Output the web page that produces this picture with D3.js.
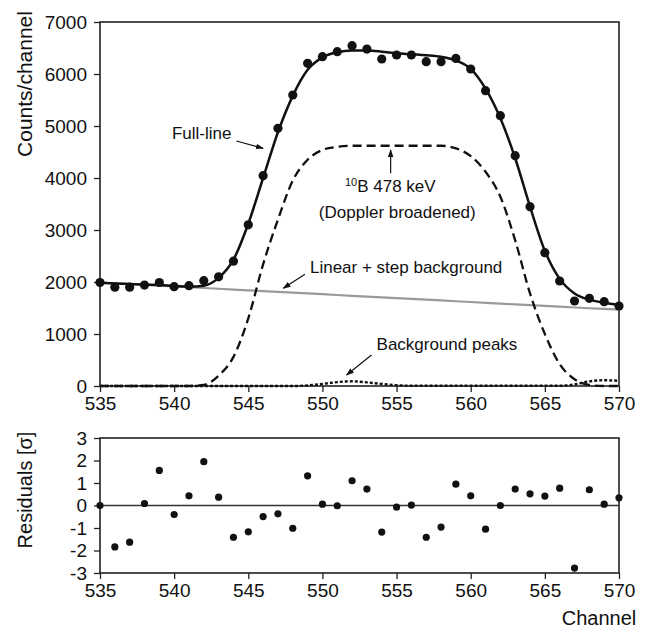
<!DOCTYPE html>
<html><head><meta charset="utf-8">
<script src="https://cdn.jsdelivr.net/npm/d3@7"></script>
<style>body{margin:0;background:#fff}svg{display:block}text{font-family:"Liberation Sans",Arial,Helvetica,sans-serif;fill:#111}</style>
</head><body><svg id="c" width="652" height="628"></svg>
<script>
const channels = d3.range(535, 571);
const counts = [1990,1900,1900,1940,1990,1910,1930,2025,2100,2400,3100,4044,4955,5596,6206,6333,6429,6544,6480,6288,6365,6365,6237,6237,6300,6096,5679,5198,4429,3448,2563,2019,1635,1686,1621,1538];
const fitLine = [1985,1970,1960,1950,1940,1925,1912,1930,2080,2430,3120,4000,4880,5580,6080,6320,6420,6450,6450,6430,6400,6380,6360,6330,6260,6100,5720,5150,4380,3450,2600,2060,1780,1660,1600,1560];
const peak10B = [0,0,0,0,0,0,0,20,200,560,1300,2340,3200,3950,4350,4540,4600,4620,4620,4620,4620,4620,4620,4620,4570,4420,4120,3640,2800,1780,1000,420,130,20,0,0];
const bgPeaks = [0,0,0,0,0,0,0,0,0,0,0,0,0,0,10,40,75,90,70,40,15,5,5,5,5,5,5,5,5,5,5,5,30,90,110,100];
const linBg = [1990,1975,1960,1945,1930,1915,1900,1885,1870,1855,1840,1825,1810,1795,1780,1765,1750,1735,1720,1705,1690,1675,1660,1645,1630,1615,1600,1585,1570,1555,1540,1525,1510,1495,1482,1470];
const residuals = [0.0,-1.84,-1.63,0.09,1.56,-0.4,0.43,1.95,0.37,-1.41,-1.17,-0.49,-0.37,-1.01,1.32,0.06,-0.01,1.1,0.73,-1.18,-0.07,0.02,-1.41,-0.96,0.95,0.43,-1.05,0.0,0.73,0.52,0.42,0.77,-2.78,0.7,0.06,0.34];
const xTicks = [535,540,545,550,555,560,565,570];
const yTicksTop = [0,1000,2000,3000,4000,5000,6000,7000];
const yTicksRes = [-3,-2,-1,0,1,2,3];

const svg = d3.select("#c");
const L = 100, R = 619;
const x = d3.scaleLinear().domain([535,570]).range([L,R]);
const y = d3.scaleLinear().domain([0,7000]).range([386,22]);
const yr = d3.scaleLinear().domain([-3,3]).range([573,438]);

svg.append("defs").append("marker").attr("id","ah").attr("viewBox","0 0 10 10")
  .attr("refX",9).attr("refY",5).attr("markerWidth",8).attr("markerHeight",8)
  .attr("orient","auto-start-reverse").attr("markerUnits","userSpaceOnUse")
  .append("path").attr("d","M0,1.5 L10,5 L0,8.5 Z").attr("fill","#111");

function axes(g, ys, yt){
  const ax = d3.axisBottom(x).tickValues(xTicks).tickSize(6).tickSizeOuter(0).tickFormat(d3.format("d"));
  const gx = g.append("g").attr("transform",`translate(0,${ys.range()[0]})`).call(ax);
  const ay = d3.axisLeft(ys).tickValues(yt).tickSize(6).tickSizeOuter(0).tickFormat(d=>String(d));
  const gy = g.append("g").attr("transform",`translate(${L},0)`).call(ay);
  [gx,gy].forEach(a=>{a.select(".domain").remove();
    a.selectAll("line").attr("stroke","#222").attr("stroke-width",1.3);
    a.selectAll("text").attr("font-size",19).attr("fill","#111").attr("font-family",'"Liberation Sans",Arial,sans-serif');});
  gx.selectAll("text").attr("dy","0.85em").attr("y",8);
  gy.selectAll("text").attr("x",-13);
  g.append("rect").attr("x",L).attr("y",ys.range()[1]).attr("width",R-L).attr("height",ys.range()[0]-ys.range()[1])
    .attr("fill","none").attr("stroke","#222").attr("stroke-width",1.6);
}

const gTop = svg.append("g");
axes(gTop, y, yTicksTop);
const gBot = svg.append("g");
axes(gBot, yr, yTicksRes);

const line = (arr, ys, curve) => d3.line().x((d,i)=>x(channels[i])).y(d=>ys(d)).curve(curve||d3.curveMonotoneX)(arr);

gTop.append("path").attr("d",line(linBg,y,d3.curveLinear)).attr("fill","none").attr("stroke","#9a9a9a").attr("stroke-width",2.2);
gTop.append("path").attr("d",line(bgPeaks,y)).attr("fill","none").attr("stroke","#111").attr("stroke-width",2.4).attr("stroke-dasharray","3,2");
gTop.append("path").attr("d",line(peak10B,y)).attr("fill","none").attr("stroke","#111").attr("stroke-width",2.3).attr("stroke-dasharray","9,5");
gTop.append("path").attr("d",line(fitLine,y)).attr("fill","none").attr("stroke","#111").attr("stroke-width",2.5);
gTop.selectAll("circle.pt").data(counts).join("circle").attr("class","pt")
  .attr("cx",(d,i)=>x(channels[i])).attr("cy",d=>y(d)).attr("r",4.6).attr("fill","#111");

gBot.append("line").attr("x1",L).attr("x2",R).attr("y1",yr(0)).attr("y2",yr(0)).attr("stroke","#333").attr("stroke-width",1.6);
gBot.selectAll("circle.rs").data(residuals).join("circle").attr("class","rs")
  .attr("cx",(d,i)=>x(channels[i])).attr("cy",d=>yr(d)).attr("r",3.6).attr("fill","#111");

function label(t, cx, cy, anchor){ return gTop.append("text").attr("x",x(cx)).attr("y",y(cy)).attr("dy","0.35em").attr("font-size",17).attr("text-anchor",anchor||"start").text(t); }
function arrow(c1,v1,c2,v2){ gTop.append("line").attr("x1",x(c1)).attr("y1",y(v1)).attr("x2",x(c2)).attr("y2",y(v2)).attr("stroke","#111").attr("stroke-width",1.2).attr("marker-end","url(#ah)"); }

label("Full-line",539.85,4865);
arrow(544.2,4712,546.0,4571);

const t10 = gTop.append("text").attr("x",x(551.52)).attr("y",y(3769)).attr("dy","0.35em").attr("font-size",17);
t10.append("tspan").attr("font-size",11).attr("dy","-0.35em").text("10");
t10.append("tspan").attr("dy","0.35em").text("B 478 keV");
label("(Doppler broadened)",555.05,3352,"middle");
arrow(554.6,4090,554.6,4540);

label("Linear + step background",549.16,2288);
arrow(548.82,2148,547.36,1879);

label("Background peaks",553.65,808);
arrow(553.31,596,551.63,212);

svg.append("text").attr("transform",`translate(25,84) rotate(-90)`).attr("text-anchor","middle").attr("dy","0.35em").attr("font-size",21).text("Counts/channel");
svg.append("text").attr("transform",`translate(25,490) rotate(-90)`).attr("text-anchor","middle").attr("dy","0.35em").attr("font-size",20).text("Residuals [σ]");
svg.append("text").attr("x",599).attr("y",618).attr("text-anchor","middle").attr("dy","0.35em").attr("font-size",20).text("Channel");
</script></body></html>
